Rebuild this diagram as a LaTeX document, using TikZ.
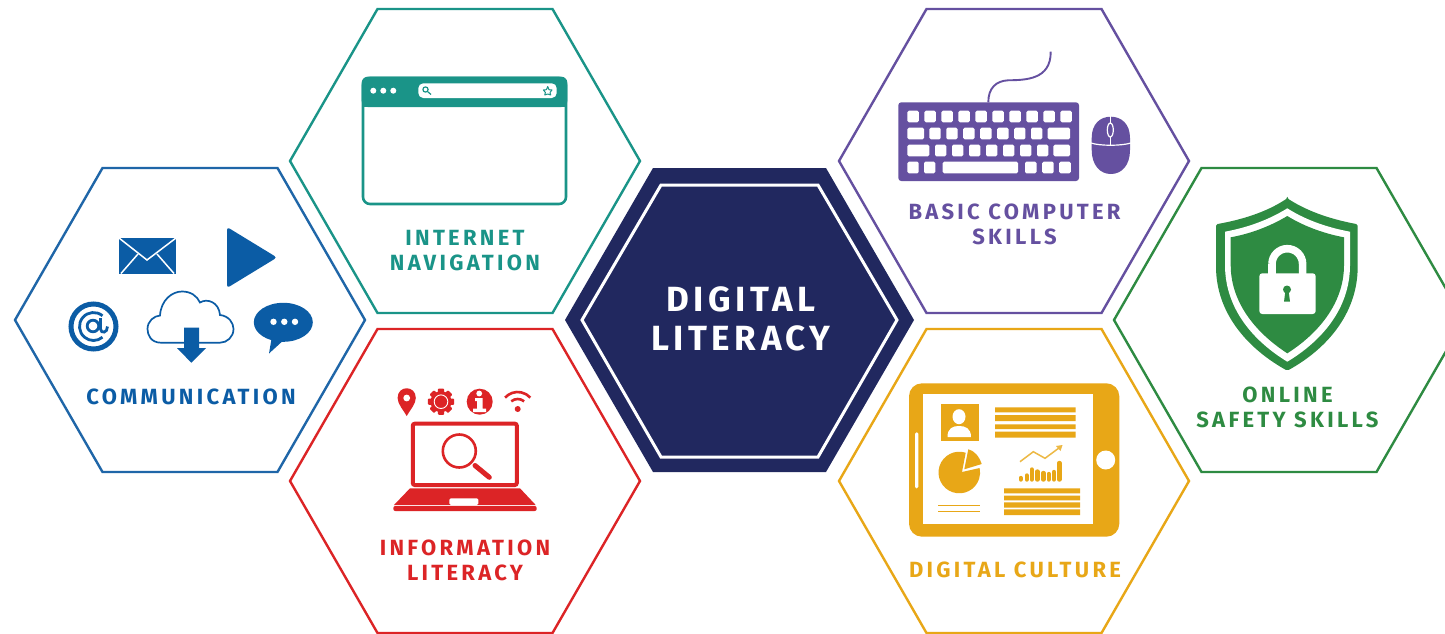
\documentclass[tikz,border=0pt]{standalone}
\usepackage{fontspec}
\newfontfamily\lab[LetterSpace=15]{Fira Sans}
\newfontfamily\labc[LetterSpace=13]{Fira Sans}
\definecolor{cblue}{HTML}{1F66A8}
\definecolor{iblue}{HTML}{0B5CA5}
\definecolor{cteal}{HTML}{1A9488}
\definecolor{cred}{HTML}{DC2426}
\definecolor{cpurp}{HTML}{6550A0}
\definecolor{cgold}{HTML}{E8A717}
\definecolor{cgreen}{HTML}{2E8B42}
\definecolor{cnavy}{HTML}{21285F}
\tikzset{
 hexline/.style={line width=2.4pt,line join=miter},
 label/.style={font=\lab\bfseries\fontsize{22}{25.5}\selectfont,align=center,inner sep=0pt},
}
\newcommand{\hexa}[3]{\draw[hexline,#3] (#1-175,#2) -- (#1-87.5,#2-152) -- (#1+87.5,#2-152) -- (#1+175,#2) -- (#1+87.5,#2+152) -- (#1-87.5,#2+152) -- cycle;}
\begin{document}
\begin{tikzpicture}[x=1pt,y=-1pt]
\useasboundingbox (0,0) rectangle (1445,634);
\fill[white] (0,0) rectangle (1445,634);
\clip (0,0) rectangle (1445,634);
% hexagons
\hexa{190}{320}{cblue}
\hexa{465}{161}{cteal}
\hexa{465}{481}{cred}
\hexa{1014}{161}{cpurp}
\hexa{1014}{481}{cgold}
\hexa{1289}{320}{cgreen}
% centre
\fill[cnavy] (565,320) -- (653,168) -- (826,168) -- (914,320) -- (826,472) -- (653,472) -- cycle;
\draw[white,line width=3pt] (582,320) -- (661,185) -- (818,185) -- (897,320) -- (818,457) -- (661,457) -- cycle;
\node[label,text=white,font=\labc\bfseries\fontsize{35}{39}\selectfont] (centre) at (741,319) {DIGITAL\\LITERACY};
% communication icons
\begin{scope}[iblue]
 \fill (119,237.5) rectangle (176,273.5);
 \draw[white,line width=1.5pt] (119,238) -- (147,260) -- (176,238);
 \draw[white,line width=1.5pt] (121,273.5) -- (138,254) (174,273.5) -- (157,254);
 \fill[rounded corners=3pt] (227,227) -- (227,288) -- (277,257.5) -- cycle;
 % at sign
 \draw[line width=5pt] (93.5,326.5) circle (22.5);
 \draw[line width=2.8pt] ([shift={(-50:14)}]93.5,326.5) arc[start angle=-50,end angle=-310,radius=14];
 \draw[line width=2.8pt] (93,326) circle (5.8);
 \draw[line width=2.8pt] (100.5,318) -- (100.5,329) .. controls (101,334) and (107.5,333) .. (107.5,326.5);
 % cloud
 \draw[line width=1.7pt,fill=white] (161,342.7) .. controls (151,342.7) and (147.5,335) .. (147.5,329) .. controls (147.5,321) and (154,316) .. (160,315.5) .. controls (161,300) and (172,291.5) .. (182,291.5) .. controls (191,291.5) and (197,296) .. (200,302.5) .. controls (207,298) and (219,302) .. (220,315) .. controls (229,316) and (233.5,323) .. (233.5,329) .. controls (233.5,337) and (227,342.7) .. (220,342.7) -- cycle;
 \fill (184,327.5) -- (199,327.5) -- (199,348) -- (206,348) -- (191.3,362.7) -- (177,348) -- (184,348) -- cycle;
 % speech
 \fill (283.3,322.3) ellipse (29.5 and 19.5);
 \fill (272,336) -- (269,353.5) -- (286,338) -- cycle;
 \fill[white] (273.5,321.8) circle (3.2) (284.3,321.8) circle (3.2) (295,321.8) circle (3.2);
\end{scope}
\node[label,text=iblue] (comm) at (191,396.5) {COMMUNICATION};
% browser
\begin{scope}[cteal]
 \draw[line width=2.6pt,rounded corners=7pt] (363,78) rectangle (566,204);
 \fill[rounded corners=6pt] (361.7,76.7) -- (567.3,76.7) -- (567.3,107) -- (361.7,107) -- cycle;
 \fill (361.7,95) rectangle (567.3,107);
 \fill[white] (373.3,90.7) circle (3) (383.3,90.7) circle (3) (393.3,90.7) circle (3);
 \fill[white,rounded corners=5pt] (418.3,83.3) rectangle (556.7,98);
 \draw[line width=1.2pt] (425.5,89.5) circle (2.6) (427.5,91.5) -- (431,94.5);
 \draw[line width=1pt,line join=round] (547.7,86.5) -- (549,89.7) -- (552,90) -- (550,92.5) -- (550.7,95) -- (547.7,94) -- (544.7,95) -- (545.4,92.5) -- (543.4,90) -- (546.4,89.7) -- cycle;
\end{scope}
\node[label,text=cteal] (inet) at (465,250.5) {INTERNET\\NAVIGATION};
% info icons
\begin{scope}[cred]
 \fill (397.6,398) .. controls (397.6,385) and (415.8,385) .. (415.8,398) .. controls (415.8,404) and (410,410) .. (406.7,416) .. controls (403.4,410) and (397.6,404) .. (397.6,398) -- cycle;
 \fill[white] (406.7,398) circle (3.4);
 \fill (441,401.7) circle (10.5);
 \foreach \a in {0,45,...,315} \fill[rounded corners=1pt,rotate around={\a:(441,401.7)}] (437.8,388.6) rectangle (444.2,395);
 \draw[white,line width=0.9pt] (441,401.7) circle (6.8);
 \fill (479.7,401.7) circle (13);
 \fill[white] (479.2,393.5) circle (2.9);
 \fill[white] (475,398) -- (482.5,398) -- (482.5,408.5) -- (486,408.5) -- (486,412) -- (473,412) -- (473,408.5) -- (477,408.5) -- (477,401) -- (475,401) -- cycle;
 \fill (517.7,409) circle (3);
 \draw[line width=2.6pt] ([shift={(230:10)}]517.7,409) arc[start angle=230,end angle=310,radius=10];
 \draw[line width=2.6pt] ([shift={(222:17)}]517.7,409) arc[start angle=222,end angle=318,radius=17];
 % laptop
 \draw[line width=4pt,rounded corners=2pt] (412.8,423.7) rectangle (516.8,485);
 \fill (410,488.3) -- (520,488.3) -- (535.7,505) -- (394,505) -- cycle;
 \fill[rounded corners=2pt] (393.3,506) rectangle (536.7,511);
 \fill[white,rounded corners=1.5pt] (449.3,498.3) rectangle (478.3,505);
 \draw[line width=2.6pt] (459.3,451) circle (16.5);
 \draw[line width=5pt,line cap=round] (475,465.5) -- (489.3,477.3);
\end{scope}
\node[label,text=cred] (info) at (465,560.5) {INFORMATION\\LITERACY};
% keyboard
\begin{scope}[cpurp]
 \fill[rounded corners=3pt] (898.3,102.3) rectangle (1079,181);
 \draw[line width=1.9pt] (988.3,102.3) .. controls (988.3,88) and (996,81) .. (1008,80.3) .. controls (1025,80) and (1051,80) .. (1050.7,51.7);
 \begin{scope}[white]
  \foreach \k in {0,...,9} \fill[rounded corners=1.5pt] (907.3+\k*17,110.7) rectangle ++(11.6,11.6);
  \fill[rounded corners=1.5pt] (907.3,127.7) rectangle (924,139.3);
  \foreach \k in {0,...,6} \fill[rounded corners=1.5pt] (929.3+\k*16.95,127.7) rectangle ++(11.4,11.6);
  \fill[rounded corners=1.5pt] (1047.7,127.7) rectangle (1070,139.3);
  \fill[rounded corners=1.5pt] (907.3,144.7) rectangle (929.3,156.3);
  \foreach \k in {0,...,6} \fill[rounded corners=1.5pt] (935+\k*17,144.7) rectangle ++(11.4,11.6);
  \fill[rounded corners=1.5pt] (1053.3,144.7) rectangle (1070,156.3);
  \fill[rounded corners=1.5pt] (907.3,161.7) rectangle ++(11.4,11.6);
  \fill[rounded corners=1.5pt] (924,161.7) rectangle ++(11.4,11.6);
  \fill[rounded corners=1.5pt] (942.7,161.7) rectangle (1018,173.3);
  \foreach \k in {0,1,2} \fill[rounded corners=1.5pt] (1025+\k*17.1,161.7) rectangle ++(11.6,11.6);
 \end{scope}
 % mouse
 \fill (1091.7,138) .. controls (1091.7,124) and (1100,116.7) .. (1110.8,116.7) .. controls (1121.5,116.7) and (1130,124) .. (1130,138) -- (1130,150) .. controls (1130,165) and (1122,174) .. (1110.8,174) .. controls (1100,174) and (1091.7,165) .. (1091.7,150) -- cycle;
 \draw[white,line width=1.2pt] (1091,143) .. controls (1100,146) and (1121,146) .. (1131,143);
 \draw[white,line width=1.2pt] (1110.5,116) -- (1110.5,123) (1110.5,137) -- (1110.5,145);
 \draw[white,line width=1.2pt] (1110.3,130) ellipse (3 and 7);
\end{scope}
\node[label,text=cpurp] (basic) at (1014.5,224.5) {BASIC COMPUTER\\SKILLS};
% tablet
\begin{scope}[cgold]
 \fill[rounded corners=13pt] (909,383.3) rectangle (1119.3,536.7);
 \fill[white] (923.3,394.3) rectangle (1093.3,524);
 \fill[white] (1105.7,460) circle (9.5);
 \fill[white,rounded corners=1.5pt] (915,432.3) rectangle (918.3,488.3);
 \fill (940.7,404.3) rectangle (978.7,440.7);
 \fill[white] (959,416.7) ellipse (6.5 and 7.5);
 \fill[white] (947.5,437) .. controls (947.5,428) and (953,426) .. (959,426) .. controls (965,426) and (971,428) .. (971,437) -- cycle;
 \fill (995,407.3) rectangle (1075.7,412.3) (995,415) rectangle (1075.7,421) (995,424.3) rectangle (1075.7,429) (995,431.7) rectangle (1075.7,437.7);
 \fill (962,472) -- ([shift={(-72:20.8)}]959.3,472.5) arc[start angle=-72,end angle=-372.4,radius=20.8] -- cycle;
 \fill (964.3,469.3) -- (968.3,449.3) .. controls (974,450.5) and (979,456) .. (981.7,464) -- cycle;
 \draw[line width=1.4pt] (938.3,505.3) -- (980,505.3) (938.3,511.3) -- (980,511.3);
 \draw[line width=1.5pt,cgold!80] (1020,461.7) -- (1033.3,451.7) -- (1045,458.3) -- (1060,447.2);
 \fill[cgold!80] (1062.5,445) -- (1056,446) -- (1060.5,451) -- cycle;
 \foreach \x/\t in {1020.7/478,1026.7/475.5,1031.7/469.5,1037.3/471.5,1043.3/473,1048.7/474,1054/472,1059.3/463}
  \draw[line width=4.4pt,line cap=round] (\x,\t) -- (\x,479.5);
 \fill (1004,488.3) rectangle (1080,493.3) (1004,495.7) rectangle (1080,500.3) (1004,502.3) rectangle (1080,507.7) (1004,509.3) rectangle (1080,515);
\end{scope}
\node[label,text=cgold] (cult) at (1015,570) {DIGITAL CULTURE};
% shield
\begin{scope}[cgreen]
 \fill[rounded corners=1.5pt] (1287.3,198.3) .. controls (1310,213) and (1335,220) .. (1357.7,224.3) -- (1357.7,265) .. controls (1357.7,315) and (1325,350) .. (1287.3,370.7) .. controls (1250,350) and (1216,315) .. (1216,265) -- (1216,224.3) .. controls (1240,220) and (1265,213) .. (1287.3,198.3) -- cycle;
 \fill[white] (1287.3,208.3) .. controls (1307,221) and (1330,228) .. (1350,231.7) -- (1350,265) .. controls (1350,310) and (1320,342) .. (1287.3,361.7) .. controls (1255,342) and (1225,310) .. (1225,265) -- (1225,231.7) .. controls (1245,228) and (1267,221) .. (1287.3,208.3) -- cycle;
 \fill (1287.3,216) .. controls (1305,227) and (1326,234) .. (1344,237.3) -- (1344,265) .. controls (1344,305) and (1316,335) .. (1287.3,353.3) .. controls (1259,335) and (1230.7,305) .. (1230.7,265) -- (1230.7,237.3) .. controls (1249,234) and (1269,227) .. (1287.3,216) -- cycle;
 \draw[white,line width=7.6pt] (1272,275) -- (1272,264) ([shift={(180:15.3)}]1287.3,264) arc[start angle=180,end angle=360,radius=15.3] -- (1302.6,275);
 \fill[white,rounded corners=3pt] (1259.3,273.3) rectangle (1315.7,314);
 \fill (1287,289.5) circle (4);
 \fill (1285.5,290) -- (1288.5,290) -- (1290,301.7) -- (1284,301.7) -- cycle;
\end{scope}
\node[label,text=cgreen] (safe) at (1287.5,407.5) {ONLINE\\SAFETY SKILLS};
\end{tikzpicture}
\end{document}
